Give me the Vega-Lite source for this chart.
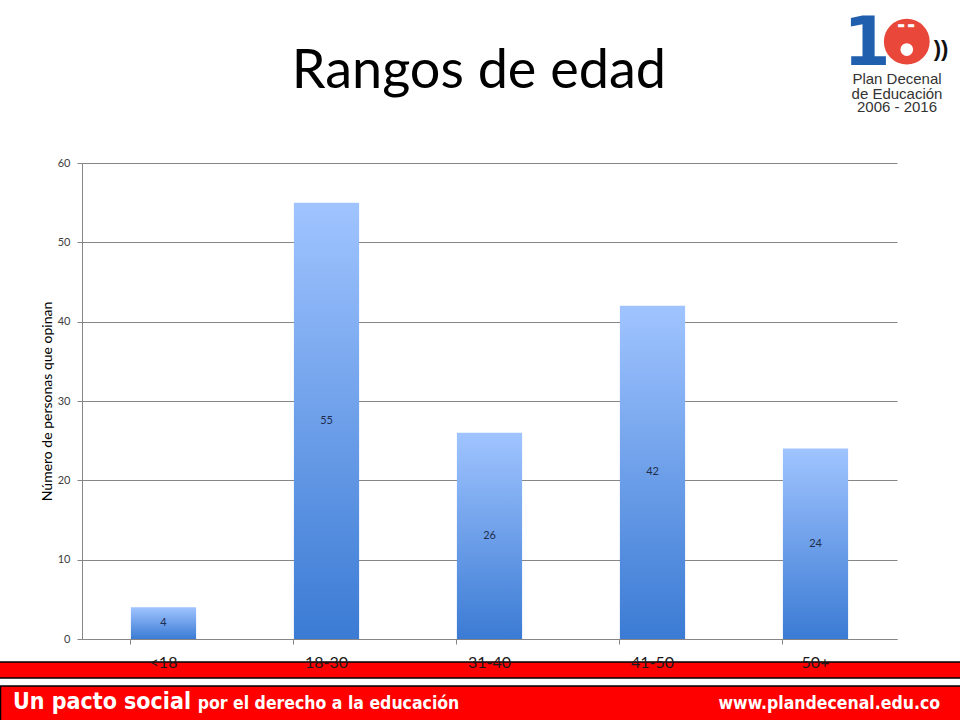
{
  "$schema": "https://vega.github.io/schema/vega-lite/v6.json",
  "width": 815,
  "height": 476,
  "autosize": "none",
  "padding": {"left": 82, "top": 163, "right": 63, "bottom": 81},
  "background": "white",
  "config": {"view": {"stroke": null}},
  "datasets": {
    "edad": [
      {"rango": "<18", "n": 4},
      {"rango": "18-30", "n": 55},
      {"rango": "31-40", "n": 26},
      {"rango": "41-50", "n": 42},
      {"rango": "50+", "n": 24}
    ],
    "one": [{"k": 1}]
  },
  "resolve": {"scale": {"x": "independent", "y": "independent"}},
  "layer": [
    {
      "data": {"name": "one"},
      "encoding": {},
      "layer": [
        {
          "mark": {"type": "rect", "fill": "#FF0000", "stroke": "#000000", "strokeWidth": 1.5, "clip": false},
          "encoding": {
            "x": {"datum": -0.103, "type": "quantitative", "scale": {"domain": [0, 1], "nice": false, "zero": false}, "axis": null},
            "x2": {"datum": 1.08},
            "y": {"datum": -2.9, "type": "quantitative", "scale": {"domain": [0, 60], "nice": false, "zero": false}, "axis": null},
            "y2": {"datum": -4.92}
          }
        },
        {
          "mark": {"type": "rect", "fill": "#FF0000", "stroke": "#000000", "strokeWidth": 1.5, "clip": false},
          "encoding": {
            "x": {"datum": -0.1, "type": "quantitative"},
            "x2": {"datum": 1.08},
            "y": {"datum": -5.92, "type": "quantitative"},
            "y2": {"datum": -10.6}
          }
        },
        {
          "mark": {"type": "text", "text": "Un pacto social", "font": "DejaVu Sans Condensed", "fontWeight": "bold", "fontSize": 23, "color": "white", "align": "left", "baseline": "alphabetic", "clip": false},
          "encoding": {
            "x": {"datum": -0.0847, "type": "quantitative"},
            "y": {"datum": -8.8, "type": "quantitative"}
          }
        },
        {
          "mark": {"type": "text", "text": "por el derecho a la educación", "font": "DejaVu Sans Condensed", "fontWeight": "bold", "fontSize": 17.5, "color": "white", "align": "left", "baseline": "alphabetic", "clip": false},
          "encoding": {
            "x": {"datum": 0.142, "type": "quantitative"},
            "y": {"datum": -8.8, "type": "quantitative"}
          }
        },
        {
          "mark": {"type": "text", "text": "www.plandecenal.edu.co", "font": "DejaVu Sans Condensed", "fontWeight": "bold", "fontSize": 17.5, "color": "white", "align": "right", "baseline": "alphabetic", "clip": false},
          "encoding": {
            "x": {"datum": 1.0528, "type": "quantitative"},
            "y": {"datum": -8.8, "type": "quantitative"}
          }
        },
        {
          "mark": {"type": "text", "text": "Rangos de edad", "font": "Lato", "fontSize": 54, "color": "#000000", "align": "center", "baseline": "alphabetic", "clip": false},
          "encoding": {
            "x": {"datum": 0.487, "type": "quantitative"},
            "y": {"datum": 69.45, "type": "quantitative"}
          }
        },
        {
          "mark": {"type": "point", "shape": "circle", "filled": true, "color": "#E8473A", "opacity": 1, "size": 2100, "clip": false},
          "encoding": {
            "x": {"datum": 1.012, "type": "quantitative"},
            "y": {"datum": 75.3, "type": "quantitative"}
          }
        },
        {
          "mark": {"type": "text", "text": "1", "font": "DejaVu Sans", "fontWeight": "bold", "fontSize": 68, "color": "#1F5FAD", "align": "center", "baseline": "alphabetic", "clip": false},
          "encoding": {
            "x": {"datum": 0.963, "type": "quantitative"},
            "y": {"datum": 72.3, "type": "quantitative"}
          }
        },
        {
          "mark": {"type": "point", "shape": "circle", "filled": true, "color": "white", "opacity": 1, "size": 160, "clip": false},
          "encoding": {
            "x": {"datum": 1.012, "type": "quantitative"},
            "y": {"datum": 74.3, "type": "quantitative"}
          }
        },
        {
          "mark": {"type": "text", "text": "▬ ▬", "font": "DejaVu Sans", "fontSize": 8, "color": "white", "align": "center", "baseline": "middle", "clip": false},
          "encoding": {
            "x": {"datum": 1.011, "type": "quantitative"},
            "y": {"datum": 77.3, "type": "quantitative"}
          }
        },
        {
          "mark": {"type": "text", "text": "))", "font": "Liberation Sans", "fontWeight": "bold", "fontSize": 22, "color": "#111111", "align": "left", "baseline": "middle", "clip": false},
          "encoding": {
            "x": {"datum": 1.045, "type": "quantitative"},
            "y": {"datum": 74.4, "type": "quantitative"}
          }
        },
        {
          "mark": {"type": "text", "text": "Plan Decenal", "font": "Liberation Sans", "fontSize": 15, "color": "#333333", "align": "center", "baseline": "alphabetic", "clip": false},
          "encoding": {
            "x": {"datum": 1.0, "type": "quantitative"},
            "y": {"datum": 69.9, "type": "quantitative"}
          }
        },
        {
          "mark": {"type": "text", "text": "de Educación", "font": "Liberation Sans", "fontSize": 15, "color": "#333333", "align": "center", "baseline": "alphabetic", "clip": false},
          "encoding": {
            "x": {"datum": 1.0, "type": "quantitative"},
            "y": {"datum": 68.1, "type": "quantitative"}
          }
        },
        {
          "mark": {"type": "text", "text": "2006 - 2016", "font": "Liberation Sans", "fontSize": 15, "color": "#333333", "align": "center", "baseline": "alphabetic", "clip": false},
          "encoding": {
            "x": {"datum": 1.0, "type": "quantitative"},
            "y": {"datum": 66.4, "type": "quantitative"}
          }
        }
      ]
    },
    {
      "data": {"name": "edad"},
      "mark": {
        "type": "bar",
        "color": {
          "gradient": "linear",
          "x1": 0, "y1": 0, "x2": 0, "y2": 1,
          "stops": [
            {"offset": 0, "color": "#A0C4FF"},
            {"offset": 1, "color": "#3B7BD4"}
          ]
        }
      },
      "encoding": {
        "x": {
          "field": "rango",
          "type": "nominal",
          "sort": null,
          "scale": {"paddingInner": 0.6, "paddingOuter": 0.3},
          "axis": {
            "orient": "bottom",
            "title": null,
            "zindex": 3,
            "labelAngle": 0,
            "labelFont": "Lato",
            "labelFontSize": 16,
            "labelColor": "#1a1a1a",
            "labelPadding": 10,
            "bandPosition": 0,
            "tickSize": 5,
            "tickColor": "#868686",
            "domainColor": "#868686",
            "grid": false
          }
        },
        "y": {
          "field": "n",
          "type": "quantitative",
          "scale": {"domain": [0, 60], "nice": false},
          "axis": {
            "orient": "left",
            "grid": true,
            "values": [0, 10, 20, 30, 40, 50, 60],
            "title": "Número de personas que opinan",
            "titleFont": "Lato",
            "titleFontSize": 14,
            "titleFontWeight": "normal",
            "titleColor": "#000000",
            "titlePadding": 3,
            "labelFont": "Lato",
            "labelFontSize": 11,
            "labelColor": "#404040",
            "labelPadding": 7,
            "tickSize": 5,
            "tickColor": "#868686",
            "domainColor": "#868686",
            "gridColor": "#868686",
            "gridOpacity": 1
          }
        }
      }
    },
    {
      "data": {"name": "edad"},
      "mark": {"type": "text", "font": "Lato", "fontSize": 11, "color": "#1F2D4D", "baseline": "middle"},
      "encoding": {
        "x": {
          "field": "rango",
          "type": "nominal",
          "sort": null,
          "scale": {"paddingInner": 0.6, "paddingOuter": 0.3},
          "axis": null
        },
        "y": {
          "field": "n",
          "type": "quantitative",
          "scale": {"domain": [0, 120], "nice": false},
          "axis": null
        },
        "text": {"field": "n", "type": "quantitative"}
      }
    }
  ]
}
